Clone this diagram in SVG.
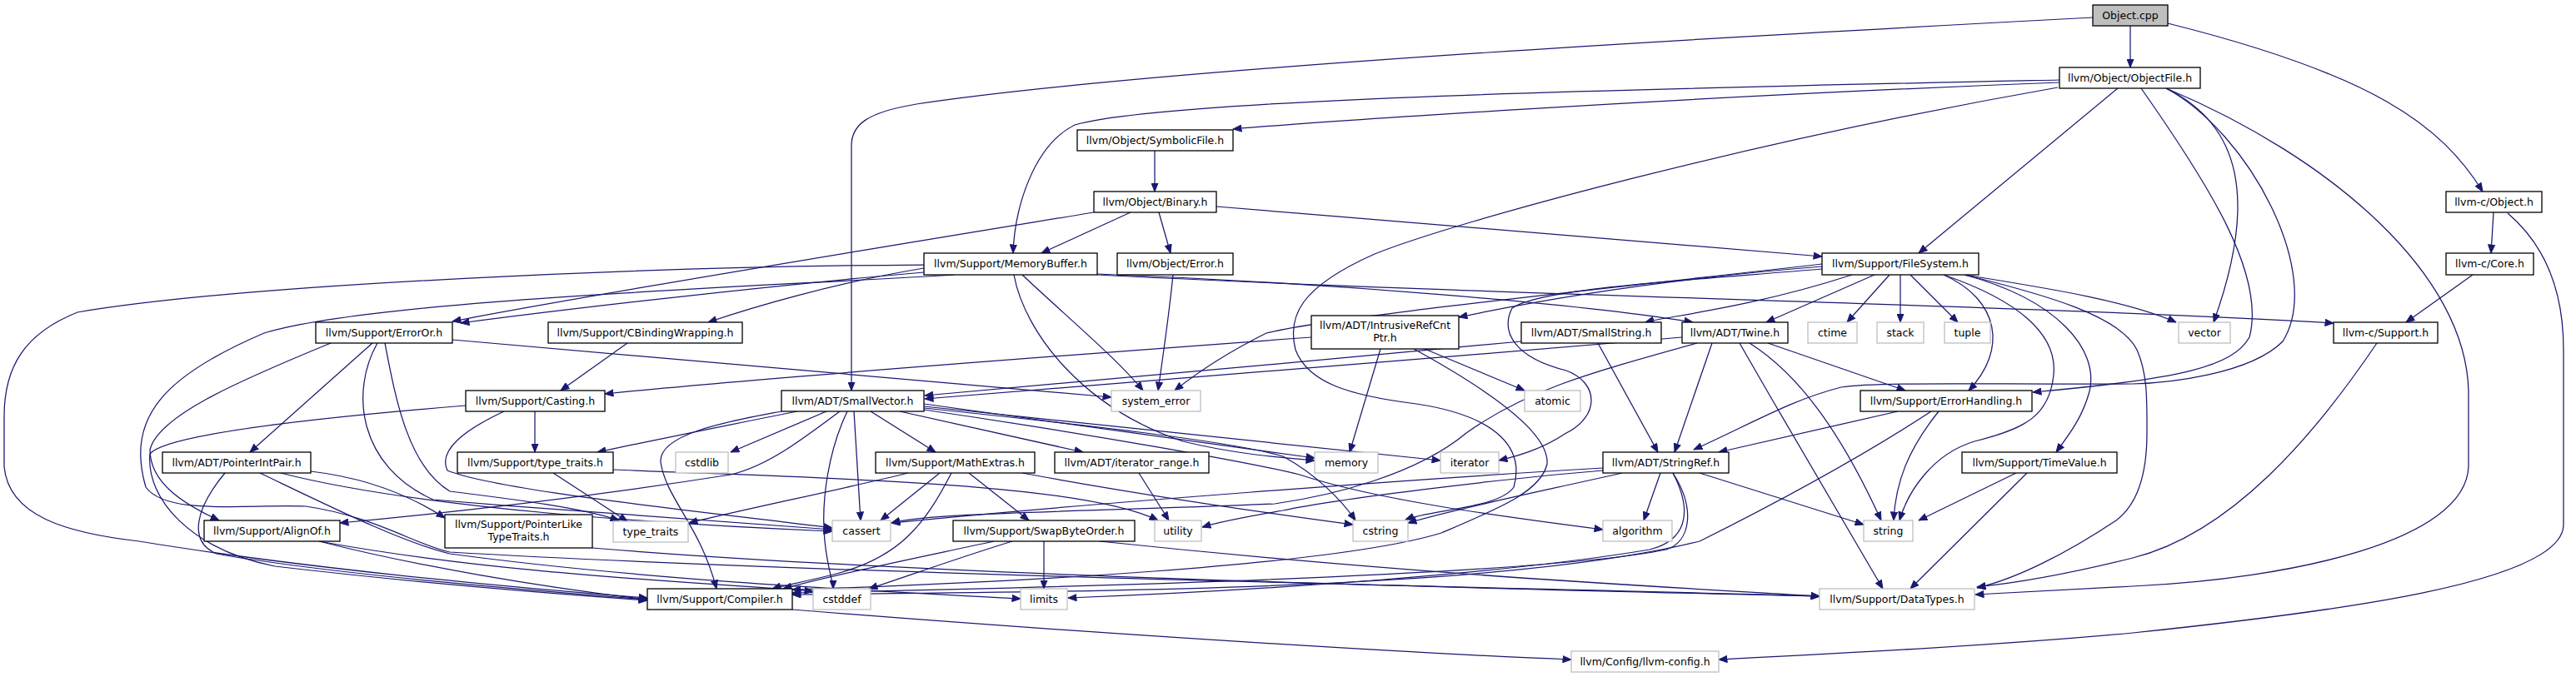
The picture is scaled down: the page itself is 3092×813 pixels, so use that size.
<svg xmlns="http://www.w3.org/2000/svg" width="3092" height="813" viewBox="0 0 3092 813">
<style>
.n rect{fill:#fff;stroke:#000;stroke-width:1.3}
.g rect{fill:#fff;stroke:#bfbfbf;stroke-width:1.3}
.r rect{fill:#bfbfbf;stroke:#000;stroke-width:1.3}
text{font-family:"DejaVu Sans",sans-serif;font-size:12.5px;fill:#000;text-anchor:middle}
#edges path{fill:none;stroke:#191970;stroke-width:1.25;marker-end:url(#a)}
</style>
<defs>
<marker id="a" markerWidth="11" markerHeight="9" refX="10.5" refY="4.5" orient="auto" markerUnits="userSpaceOnUse"><path d="M0.5,0.5 L10.5,4.5 L0.5,8.5 z" fill="#191970" stroke="#191970"/></marker>
</defs>
<rect width="3092" height="813" fill="#fff"/>
<g id="edges">
<path d="M2557,31 L2557,81"/>
<path d="M2512,21 C2150,40 1400,80 1100,125 C1040,135 1022,150 1022,175 L1022,469"/>
<path d="M2602,28 C2850,90 2930,150 2980,230"/>
<path d="M2472,99 C2000,117 1560,148 1480,155"/>
<path d="M2472,96 C2000,106 1400,118 1290,150 C1240,175 1218,250 1216,304"/>
<path d="M2542,106 L2303,304"/>
<path d="M2470,105 C2100,170 1750,265 1650,305 C1560,345 1545,380 1555,420 C1570,460 1620,475 1700,485 C1800,500 1830,540 1817,585 C1800,610 1720,612 1687,624"/>
<path d="M2600,106 C2690,150 2710,240 2657,387"/>
<path d="M2600,106 C2700,160 2790,330 2740,410 C2700,450 2600,460 2560,461 C2400,462 2250,458 2210,465 C2150,480 2100,510 2033,540"/>
<path d="M2570,106 C2650,220 2720,330 2700,405 C2680,440 2620,455 2440,471"/>
<path d="M2600,106 C2800,190 2960,330 2963,470 L2963,560 C2960,650 2750,695 2560,704 C2480,708 2420,712 2371,714"/>
<path d="M2993,255 L2990,304"/>
<path d="M3010,256 C3050,290 3077,340 3077,420 L3077,630 C3077,700 2800,735 2560,760 C2400,775 2200,785 2063,792"/>
<path d="M2968,330 L2888,387"/>
<path d="M2853,412 C2780,520 2680,640 2560,670 C2480,690 2420,700 2373,705"/>
<path d="M1386,181 L1386,230"/>
<path d="M1357,255 L1250,304"/>
<path d="M1391,255 L1405,304"/>
<path d="M1460,248 L2187,308"/>
<path d="M1313,255 C1100,290 700,355 543,386"/>
<path d="M1408,330 C1403,380 1397,420 1390,469"/>
<path d="M1317,330 C1800,355 2400,365 2801,388"/>
<path d="M1317,329 C1600,340 1900,365 2032,387"/>
<path d="M1227,330 C1280,380 1340,430 1372,469"/>
<path d="M1217,330 C1230,400 1300,490 1420,530 C1480,545 1540,550 1578,553"/>
<path d="M1109,322 C1000,340 900,370 850,387"/>
<path d="M1109,327 C900,345 650,375 553,388"/>
<path d="M1109,318 C800,320 300,340 93,375 C30,400 5,440 5,500 L5,560 C10,620 80,640 167,650 C350,680 600,705 777,718"/>
<path d="M1145,330 C900,345 450,360 317,400 C200,450 150,500 175,585 C200,620 300,605 367,608 C450,620 500,655 540,663 C1000,690 1800,705 2184,716"/>
<path d="M2268,330 L2217,387"/>
<path d="M2281,330 L2281,387"/>
<path d="M2293,330 L2350,387"/>
<path d="M2250,330 L2120,387"/>
<path d="M2358,330 C2450,345 2550,360 2612,387"/>
<path d="M2358,330 C2460,355 2545,380 2565,420 C2578,450 2577,480 2577,520 C2577,580 2560,610 2540,625 C2480,665 2420,695 2373,706"/>
<path d="M2333,330 C2400,360 2410,420 2363,469"/>
<path d="M2333,330 C2420,360 2470,400 2465,450 C2460,500 2430,515 2370,530 C2320,545 2290,590 2280,625"/>
<path d="M2358,330 C2470,360 2520,420 2508,470 C2500,500 2485,520 2468,543"/>
<path d="M2187,320 C2000,335 1850,360 1751,381"/>
<path d="M2187,323 C2050,335 1850,345 1815,370 C1800,400 1820,430 1880,445 C1920,460 1920,500 1880,520 C1850,540 1820,548 1799,553"/>
<path d="M2223,330 C2100,370 2000,380 1975,387"/>
<path d="M2187,317 C1900,350 1600,380 1520,400 C1480,420 1440,445 1410,469"/>
<path d="M957,494 C850,515 780,530 717,543"/>
<path d="M992,494 L877,543"/>
<path d="M1008,494 C960,530 920,560 877,570 C750,590 600,610 408,628"/>
<path d="M1017,494 C995,540 985,600 990,650 C993,680 1000,700 1000,707"/>
<path d="M1025,494 L1033,625"/>
<path d="M938,494 C880,505 790,520 793,555 C800,600 840,630 860,707"/>
<path d="M1045,494 L1123,543"/>
<path d="M1080,494 L1300,543"/>
<path d="M1109,485 L1578,550"/>
<path d="M1109,488 L1729,553"/>
<path d="M1109,490 C1300,510 1480,530 1540,548 C1580,570 1610,600 1627,625"/>
<path d="M1109,492 C1300,520 1500,555 1560,570 C1650,600 1800,620 1924,636"/>
<path d="M447,412 L300,543"/>
<path d="M543,408 L1334,477"/>
<path d="M397,412 C280,460 190,500 180,540 C180,580 220,605 263,625"/>
<path d="M453,412 C420,470 430,560 520,600 C700,615 900,630 999,636"/>
<path d="M462,412 C475,480 490,560 540,590 C620,600 700,610 743,625"/>
<path d="M270,568 C235,610 225,650 260,665 C400,690 650,710 777,720"/>
<path d="M373,566 C450,575 500,600 534,622"/>
<path d="M337,568 C500,610 800,630 999,638"/>
<path d="M312,568 C400,610 480,650 540,665 C800,700 1100,712 1225,719"/>
<path d="M383,650 C500,680 650,705 777,720"/>
<path d="M383,650 C600,690 850,700 976,710"/>
<path d="M711,658 C1100,690 1700,705 2184,716"/>
<path d="M642,494 L642,543"/>
<path d="M605,494 C560,515 525,540 537,565 C600,590 850,615 999,634"/>
<path d="M559,487 C400,500 200,520 180,545 C175,600 230,660 330,680 C500,700 650,712 777,721"/>
<path d="M753,412 L673,469"/>
<path d="M664,568 L753,626"/>
<path d="M736,564 C1000,575 1300,580 1390,625"/>
<path d="M1128,568 L1057,625"/>
<path d="M1142,568 C1110,630 1080,670 1000,690 C960,700 940,703 927,707"/>
<path d="M1163,568 L1235,625"/>
<path d="M1227,568 C1400,600 1550,620 1624,630"/>
<path d="M1090,568 C1000,590 900,610 827,628"/>
<path d="M1367,568 L1403,625"/>
<path d="M1253,650 L1253,707"/>
<path d="M1193,650 C1100,670 1000,690 940,707"/>
<path d="M1215,650 C1150,670 1080,695 1043,707"/>
<path d="M1320,650 C1700,690 2000,705 2184,716"/>
<path d="M951,732 C1300,760 1700,785 1886,792"/>
<path d="M1657,419 L1620,543"/>
<path d="M1710,419 L1830,469"/>
<path d="M1697,419 C1790,470 1860,520 1857,557 C1850,590 1800,610 1730,640 C1600,680 1200,700 951,708"/>
<path d="M1574,405 C1300,425 900,455 726,473"/>
<path d="M1826,410 C1600,430 1300,460 1110,475"/>
<path d="M1918,412 L1990,543"/>
<path d="M2019,405 C1700,432 1300,464 1110,479"/>
<path d="M2055,412 L2010,543"/>
<path d="M2088,412 C2150,520 2220,640 2260,707"/>
<path d="M2100,412 C2160,450 2210,520 2258,625"/>
<path d="M2122,412 L2287,469"/>
<path d="M2037,412 C1900,450 1830,470 1760,520 C1700,570 1600,595 1530,605 C1300,615 1120,615 1070,628"/>
<path d="M1993,568 L1973,625"/>
<path d="M2040,568 L2237,630"/>
<path d="M1947,568 C1850,590 1750,610 1690,628"/>
<path d="M1924,565 C1800,575 1600,600 1540,613 C1500,620 1470,625 1443,633"/>
<path d="M1924,562 C1700,575 1300,605 1070,628"/>
<path d="M2008,568 C2035,610 2030,650 2000,660 C1850,690 1300,705 951,712"/>
<path d="M2008,568 C2035,620 2020,650 1980,660 C1800,690 1500,710 1282,718"/>
<path d="M2278,494 L2063,543"/>
<path d="M2327,494 C2290,540 2275,580 2273,625"/>
<path d="M2318,494 C2240,545 2140,600 2040,650 C1800,710 1300,710 951,714"/>
<path d="M2420,568 L2303,625"/>
<path d="M2433,568 L2293,707"/>
</g>
<g id="n0" class="r"><rect x="2512" y="6" width="90" height="25"/><text x="2557" y="23">Object.cpp</text></g>
<g id="n1" class="n"><rect x="2472" y="81" width="169" height="25"/><text x="2556.5" y="98">llvm/Object/ObjectFile.h</text></g>
<g id="n2" class="n"><rect x="938" y="469" width="171" height="25"/><text x="1023.5" y="486">llvm/ADT/SmallVector.h</text></g>
<g id="n3" class="n"><rect x="2936" y="230" width="115" height="25"/><text x="2993.5" y="247">llvm-c/Object.h</text></g>
<g id="n4" class="n"><rect x="1293" y="156" width="187" height="25"/><text x="1386.5" y="173">llvm/Object/SymbolicFile.h</text></g>
<g id="n5" class="n"><rect x="1109" y="304" width="208" height="26"/><text x="1213" y="321">llvm/Support/MemoryBuffer.h</text></g>
<g id="n6" class="n"><rect x="2187" y="304" width="188" height="26"/><text x="2281" y="321">llvm/Support/FileSystem.h</text></g>
<g id="n7" class="n"><rect x="1313" y="230" width="147" height="25"/><text x="1386.5" y="247">llvm/Object/Binary.h</text></g>
<g id="n8" class="n"><rect x="1341" y="304" width="139" height="26"/><text x="1410.5" y="321">llvm/Object/Error.h</text></g>
<g id="n9" class="n"><rect x="379" y="387" width="164" height="25"/><text x="461" y="404">llvm/Support/ErrorOr.h</text></g>
<g id="n10" class="n"><rect x="658" y="387" width="233" height="25"/><text x="774.5" y="404">llvm/Support/CBindingWrapping.h</text></g>
<g id="n11" class="n"><rect x="559" y="469" width="167" height="25"/><text x="642.5" y="486">llvm/Support/Casting.h</text></g>
<g id="n12" class="n"><rect x="549" y="543" width="187" height="25"/><text x="642.5" y="560">llvm/Support/type_traits.h</text></g>
<g id="n13" class="n"><rect x="195" y="543" width="178" height="25"/><text x="284" y="560">llvm/ADT/PointerIntPair.h</text></g>
<g id="n14" class="n"><rect x="245" y="625" width="163" height="25"/><text x="326.5" y="642">llvm/Support/AlignOf.h</text></g>
<g id="n15" class="n"><rect x="534" y="618" width="177" height="40"/><text x="622.5" y="634">llvm/Support/PointerLike</text><text x="622.5" y="649">TypeTraits.h</text></g>
<g id="n16" class="g"><rect x="736" y="626" width="90" height="25"/><text x="781" y="643">type_traits</text></g>
<g id="n17" class="g"><rect x="999" y="625" width="70" height="25"/><text x="1034" y="642">cassert</text></g>
<g id="n18" class="n"><rect x="777" y="707" width="174" height="25"/><text x="864" y="724">llvm/Support/Compiler.h</text></g>
<g id="n19" class="g"><rect x="976" y="707" width="69" height="25"/><text x="1010.5" y="724">cstddef</text></g>
<g id="n20" class="g"><rect x="811" y="543" width="63" height="25"/><text x="842.5" y="560">cstdlib</text></g>
<g id="n21" class="n"><rect x="1051" y="543" width="191" height="25"/><text x="1146.5" y="560">llvm/Support/MathExtras.h</text></g>
<g id="n22" class="n"><rect x="1266" y="543" width="185" height="25"/><text x="1358.5" y="560">llvm/ADT/iterator_range.h</text></g>
<g id="n23" class="n"><rect x="1144" y="625" width="218" height="25"/><text x="1253" y="642">llvm/Support/SwapByteOrder.h</text></g>
<g id="n24" class="g"><rect x="1386" y="625" width="56" height="25"/><text x="1414" y="642">utility</text></g>
<g id="n25" class="g"><rect x="1225" y="707" width="56" height="25"/><text x="1253" y="724">limits</text></g>
<g id="n26" class="g"><rect x="1334" y="469" width="107" height="25"/><text x="1387.5" y="486">system_error</text></g>
<g id="n27" class="n"><rect x="1574" y="379" width="177" height="40"/><text x="1662.5" y="395">llvm/ADT/IntrusiveRefCnt</text><text x="1662.5" y="410">Ptr.h</text></g>
<g id="n28" class="n"><rect x="1826" y="387" width="168" height="25"/><text x="1910" y="404">llvm/ADT/SmallString.h</text></g>
<g id="n29" class="n"><rect x="2019" y="387" width="127" height="25"/><text x="2082.5" y="404">llvm/ADT/Twine.h</text></g>
<g id="n30" class="g"><rect x="1830" y="469" width="67" height="25"/><text x="1863.5" y="486">atomic</text></g>
<g id="n31" class="g"><rect x="1578" y="543" width="76" height="25"/><text x="1616" y="560">memory</text></g>
<g id="n32" class="g"><rect x="1729" y="543" width="70" height="25"/><text x="1764" y="560">iterator</text></g>
<g id="n33" class="n"><rect x="1924" y="543" width="151" height="25"/><text x="1999.5" y="560">llvm/ADT/StringRef.h</text></g>
<g id="n34" class="g"><rect x="1624" y="625" width="66" height="25"/><text x="1657" y="642">cstring</text></g>
<g id="n35" class="g"><rect x="1924" y="625" width="83" height="25"/><text x="1965.5" y="642">algorithm</text></g>
<g id="n36" class="g"><rect x="1886" y="782" width="177" height="25"/><text x="1974.5" y="799">llvm/Config/llvm-config.h</text></g>
<g id="n37" class="n"><rect x="2233" y="469" width="206" height="25"/><text x="2336" y="486">llvm/Support/ErrorHandling.h</text></g>
<g id="n38" class="n"><rect x="2355" y="543" width="186" height="25"/><text x="2448" y="560">llvm/Support/TimeValue.h</text></g>
<g id="n39" class="g"><rect x="2237" y="625" width="59" height="25"/><text x="2266.5" y="642">string</text></g>
<g id="n40" class="g"><rect x="2184" y="707" width="186" height="25"/><text x="2277" y="724">llvm/Support/DataTypes.h</text></g>
<g id="n41" class="g"><rect x="2170" y="387" width="59" height="25"/><text x="2199.5" y="404">ctime</text></g>
<g id="n42" class="g"><rect x="2253" y="387" width="56" height="25"/><text x="2281" y="404">stack</text></g>
<g id="n43" class="g"><rect x="2334" y="387" width="55" height="25"/><text x="2361.5" y="404">tuple</text></g>
<g id="n44" class="g"><rect x="2615" y="387" width="62" height="25"/><text x="2646" y="404">vector</text></g>
<g id="n45" class="n"><rect x="2801" y="387" width="125" height="25"/><text x="2863.5" y="404">llvm-c/Support.h</text></g>
<g id="n46" class="n"><rect x="2936" y="304" width="105" height="26"/><text x="2988.5" y="321">llvm-c/Core.h</text></g>
</svg>
